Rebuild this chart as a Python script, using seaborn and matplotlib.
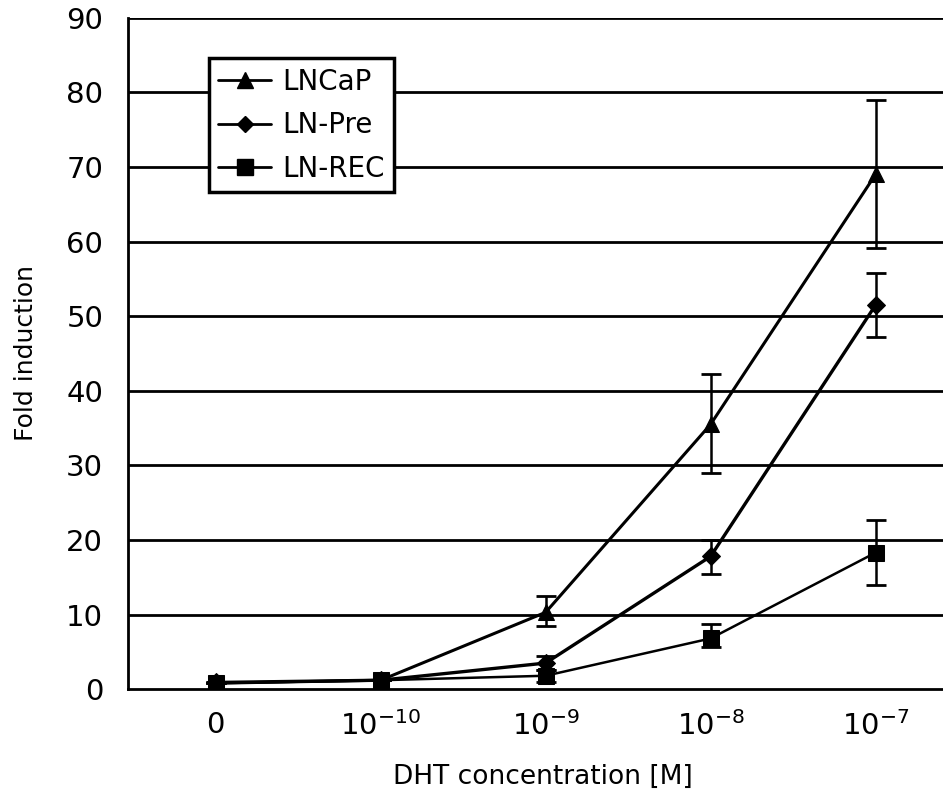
import numpy as np
import pandas as pd
import seaborn as sns
import matplotlib.pyplot as plt

# data
conc_labels = ['0', '$10^{-10}$', '$10^{-9}$', '$10^{-8}$', '$10^{-7}$']
lncap = [0.8, 1.2, 10.3, 35.5, 69.0]
lncap_lo = [0.8, 1.2, 8.5, 29.0, 59.2]
lncap_hi = [0.8, 1.2, 12.5, 42.3, 79.0]
lnpre = [0.9, 1.2, 3.5, 17.8, 51.5]
lnpre_lo = [0.9, 1.2, 2.6, 15.5, 47.2]
lnpre_hi = [0.9, 1.2, 4.4, 20.0, 55.8]
lnrec = [0.8, 1.2, 1.8, 6.8, 18.3]
lnrec_lo = [0.8, 1.2, 1.0, 5.6, 14.0]
lnrec_hi = [0.8, 1.2, 2.6, 8.8, 22.7]

series = ['LNCaP', 'LN-Pre', 'LN-REC']
markers = {'LNCaP': '^', 'LN-Pre': 'D', 'LN-REC': 's'}
msizes = {'LNCaP': 12, 'LN-Pre': 9, 'LN-REC': 12}
widths = {'LNCaP': 2.2, 'LN-Pre': 2.4, 'LN-REC': 1.8}
vals = {'LNCaP': (lncap, lncap_lo, lncap_hi),
        'LN-Pre': (lnpre, lnpre_lo, lnpre_hi),
        'LN-REC': (lnrec, lnrec_lo, lnrec_hi)}

rows = []
for s in series:
    for i, v in enumerate(vals[s][0]):
        rows.append({'pos': i, 'fold': v, 'line': s})
df = pd.DataFrame(rows)

sns.set_style('white')
plt.rcParams['font.family'] = ['DejaVu Sans']
plt.rcParams['text.color'] = 'black'
plt.rcParams['axes.labelcolor'] = 'black'
plt.rcParams['xtick.color'] = 'black'
plt.rcParams['ytick.color'] = 'black'

fig = plt.figure(figsize=(9.43, 8.07), dpi=100)
ax = fig.add_axes([0.136, 0.146, 0.88, 0.832])

for y in range(10, 100, 10):
    ax.axhline(y, color='black', lw=2, zorder=0)

for s in series:
    m, lo, hi = vals[s]
    m = np.array(m); lo = np.array(lo); hi = np.array(hi)
    ax.errorbar(range(len(m)), m, yerr=[m - lo, hi - m], fmt='none',
                ecolor='black', elinewidth=1.8, capsize=7, capthick=2, zorder=2)

sns.lineplot(data=df, x='pos', y='fold', hue='line', style='line',
             palette=['black'] * 3, markers=markers, dashes=False,
             lw=2.2, ax=ax, legend=False, zorder=3)
for line, s in zip(ax.lines[-3:], series):
    line.set_markersize(msizes[s])
    line.set_linewidth(widths[s])
    line.set_markeredgecolor('black')

ax.set_xlim(-0.53, 4.5)
ax.set_ylim(0, 90)
ax.set_yticks(range(0, 100, 10))
ax.set_xticks(range(5))
ax.set_xticklabels(conc_labels)
ax.tick_params(labelsize=21, length=0, pad=16)
ax.tick_params(axis='y', pad=18)
for side in ['top', 'right']:
    ax.spines[side].set_visible(False)
for side in ['left', 'bottom']:
    ax.spines[side].set_color('black')
    ax.spines[side].set_linewidth(2)

ax.set_xlabel('DHT concentration [M]', fontsize=19, labelpad=16)
ax.set_ylabel('Fold induction', fontsize=18, labelpad=20)

handles = [plt.Line2D([], [], color='black', lw=2, marker=markers[s],
                      markersize=msizes[s] - 1) for s in series]
leg = ax.legend(handles, series, loc='upper left', bbox_to_anchor=(0.08, 0.96),
                fontsize=20, frameon=True, fancybox=False, edgecolor='black',
                handlelength=1.9, handletextpad=0.4, borderpad=0.35,
                labelspacing=0.55, framealpha=1)
leg.get_frame().set_linewidth(2.5)
leg.set_zorder(5)

fig.savefig('out.png', dpi=100)
